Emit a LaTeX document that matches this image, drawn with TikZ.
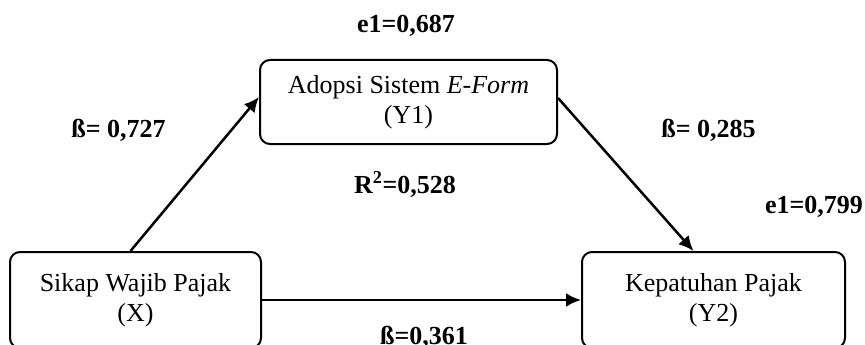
\documentclass[tikz,border=0pt]{standalone}
\usepackage{fontspec}
\setmainfont{Liberation Serif}
\usepackage{tikz}
\usetikzlibrary{arrows.meta, positioning}

\tikzset{
    varbox/.style={draw, line width=2pt, rounded corners=10pt, align=center},
    coef/.style={anchor=base, font=\fontsize{26}{30}\selectfont\bfseries},
    path/.style={line width=2.5pt, -{Latex[length=15pt,width=14pt]}}
}

\begin{document}
\begin{tikzpicture}[x=1pt, y=-1pt, font=\fontsize{26}{30}\selectfont]
\useasboundingbox (0,0) rectangle (865,345);
% Variables
\node[varbox, minimum width=297pt, minimum height=84pt] (Y1) at (408.5,102) {Adopsi Sistem \textit{E-Form}\\(Y1)};
\node[varbox, minimum width=251pt, minimum height=96pt] (X) at (135.5,300) {Sikap Wajib Pajak\\(X)};
\node[varbox, minimum width=263pt, minimum height=96pt] (Y2) at (713.5,300) {Kepatuhan Pajak\\(Y2)};
% Paths
\draw[path] ([xshift=-5pt]X.north) -- ([yshift=5pt]Y1.west);
\draw[path] ([yshift=4pt]Y1.east) -- ([xshift=-20pt]Y2.north);
\draw[path] (X.east) -- (Y2.west);
% Coefficients
\node[coef] (e1top) at (406,33) {e1=0,687};
\node[coef] (bxy1) at (118.5,137) {ß= 0,727};
\node[coef] (r2) at (405,193) {R\textsuperscript{2}=0,528};
\node[coef] (by1y2) at (708.5,137) {ß= 0,285};
\node[coef] (e1low) at (814,213) {e1=0,799};
\node[coef] (bxy2) at (424,344) {ß=0,361};
\end{tikzpicture}
\end{document}
